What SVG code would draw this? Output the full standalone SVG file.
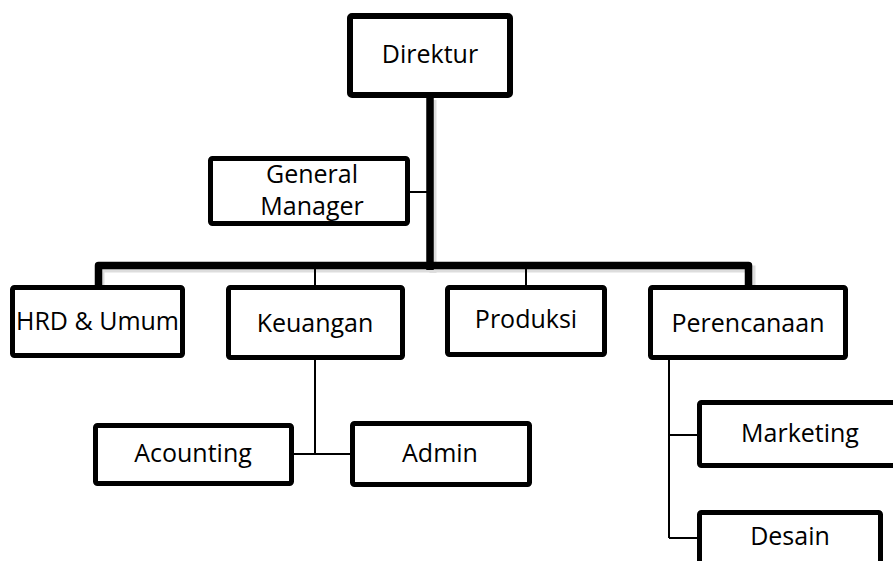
<svg xmlns="http://www.w3.org/2000/svg" width="893" height="561" viewBox="0 0 893 561">
<style>
.box{fill:#fff;stroke:#000;stroke-width:5;}
.lbl{font-family:"Open Sans","Noto Sans",sans-serif;font-size:25px;fill:#000;text-anchor:middle;}
.thick{fill:none;stroke:#000;stroke-width:7.5;stroke-linejoin:round;}
.thin{fill:none;stroke:#000;stroke-width:2;}
.shadow{fill:none;stroke:#bbb;stroke-width:7;opacity:0.5;}
</style>
<rect width="893" height="561" fill="#fff"/>
<g id="connectors">
<path class="shadow" d="M433 100 V273 M101 290 V269 H752 V290"/>
<path class="thick" d="M430 96 V270"/>
<path class="thick" d="M98.5 287 V265.5 H748.5 V287"/>
<path class="thin" d="M410 192 H427 M315 265 V286 M526 265 V286 M315 359 V454 M293 454 H351 M669 359 V538 M669 435 H698 M669 538 H698"/>
</g>
<g id="direktur"><rect class="box" x="350" y="16" width="160" height="79" rx="2" style="stroke-width:6"/><text class="lbl" x="430" y="63">Direktur</text></g>
<g id="general-manager"><rect class="box" x="210.5" y="158.5" width="197" height="65" rx="2"/><text class="lbl" x="312" y="183">General</text><text class="lbl" x="312" y="215">Manager</text></g>
<g id="hrd"><rect class="box" x="12.5" y="287.5" width="170" height="68" rx="2"/><text class="lbl" x="97.5" y="330">HRD &amp; Umum</text></g>
<g id="keuangan"><rect class="box" x="228.5" y="287.5" width="174" height="70" rx="2"/><text class="lbl" x="315" y="332">Keuangan</text></g>
<g id="produksi"><rect class="box" x="447.5" y="287.5" width="157" height="67" rx="2"/><text class="lbl" x="526" y="328">Produksi</text></g>
<g id="perencanaan"><rect class="box" x="650.5" y="287.5" width="195" height="70" rx="2"/><text class="lbl" x="748" y="332">Perencanaan</text></g>
<g id="acounting"><rect class="box" x="95.5" y="425.5" width="196" height="58" rx="2"/><text class="lbl" x="193" y="462">Acounting</text></g>
<g id="admin"><rect class="box" x="352.5" y="423.5" width="177" height="61" rx="2"/><text class="lbl" x="440" y="462">Admin</text></g>
<g id="marketing"><rect class="box" x="699.5" y="402.5" width="220" height="63" rx="2"/><text class="lbl" x="800" y="442">Marketing</text></g>
<g id="desain"><rect class="box" x="699.5" y="512.5" width="181" height="80" rx="2"/><text class="lbl" x="790" y="545">Desain</text></g>
</svg>
